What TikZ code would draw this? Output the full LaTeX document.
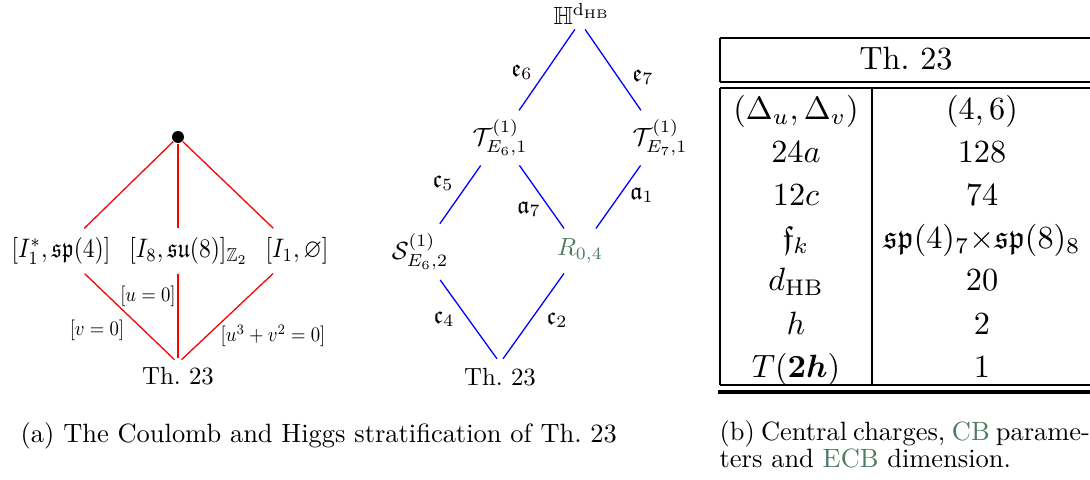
\documentclass[tikz,border=0pt]{standalone}
\usepackage{amsmath,amssymb}
\definecolor{cbgreen}{RGB}{80,122,100}
% text is set at 10pt and scaled down, as in a scaled picture
\newcommand\dgsz[1]{\scalebox{0.77}{#1}}
\newcommand\lbsz[1]{\scalebox{0.73}[0.83]{#1}}
\newcommand\egsz[1]{\scalebox{0.58}[0.64]{#1}}
\newcommand\cpsz[1]{\scalebox{0.82}{#1}}
\tikzset{
  lbl/.style={inner sep=0pt},
  glbl/.style={rectangle, minimum height=13.64pt, inner sep=0pt},
  vtx/.style={circle, inner sep=0pt},
  blackdot/.style={circle, fill=black, minimum size=3.7pt, inner sep=0pt},
  rline/.style={draw=red, line width=0.4pt},
  bline/.style={draw=blue, line width=0.4pt},
  tframe/.style={line width=0.65pt},
  tinner/.style={line width=0.4pt},
  tcell/.style={inner sep=0pt, anchor=base},
  capt/.style={inner sep=0pt, anchor=base west}
}
\begin{document}
\begin{tikzpicture}[x=0.31pt, y=-0.31pt]
\useasboundingbox (0,0) rectangle (1090,480);

% ---------- left diagram ----------
\node[blackdot] (top) at (178,137) {};
\node[glbl] (l1) at (61,251) {\lbsz{$[I_1^*,\mathfrak{sp}(4)]$}};
\node[glbl] (l2) at (178,251) {\lbsz{$\hphantom{{}_{\mathbb{Z}_2}}[I_8,\mathfrak{su}(8)]_{\mathbb{Z}_2}$}};
\node[glbl] (l3) at (297,251) {\lbsz{$[I_1,\varnothing]$}};
\coordinate (thA) at (178,363);
\node[lbl, anchor=base] (thAl) at (178,384) {\dgsz{Th.~23}};
\draw[rline] (top) -- (l1);
\draw[rline] (top) -- (l2);
\draw[rline] (top) -- (l3);
\draw[rline, shorten >=1.5pt] (l1) -- (thA);
\draw[rline, shorten >=1.5pt] (l2) -- (thA);
\draw[rline, shorten >=1.5pt] (l3) -- (thA);
\node[lbl] (ev) at (97,330) {\egsz{$[v=0]$}};
\node[lbl] (eu) at (148,296) {\egsz{$[u=0]$}};
\node[lbl] (euv) at (273,336) {\egsz{$[u^3+v^2=0]$}};

% ---------- middle diagram ----------
\coordinate (H) at (580,22);
\node[lbl, anchor=base west] (Hl) at (553,25) {\dgsz{$\mathbb{H}^{\mathrm{d}_{\mathrm{HB}}}$}};
\node[vtx, minimum size=19.8pt] (T6) at (500,138) {\dgsz{$\mathcal{T}^{(1)}_{E_6,1}$}};
\node[vtx, minimum size=19.8pt] (T7) at (660,138) {\dgsz{$\mathcal{T}^{(1)}_{E_7,1}$}};
\node[vtx, minimum size=21pt] (S) at (420,252) {\dgsz{$\mathcal{S}^{(1)}_{E_6,2}$}};
\node[vtx, minimum size=16.7pt, text=cbgreen] (R) at (580,251) {\dgsz{$R_{0,4}$}};
\coordinate (thB) at (500,363);
\node[lbl, anchor=base] (thBl) at (500,385) {\dgsz{Th.~23}};
\draw[bline, shorten <=2.8pt] (H) -- (T6);
\draw[bline, shorten <=2.8pt] (H) -- (T7);
\draw[bline] (T6) -- (S);
\draw[bline] (T6) -- (R);
\draw[bline] (T7) -- (R);
\draw[bline, shorten >=1.6pt] (S) -- (thB);
\draw[bline, shorten >=1.6pt] (R) -- (thB);
\node[lbl] (e6) at (522,72) {\dgsz{$\mathfrak{e}_6$}};
\node[lbl] (e7) at (643,77) {\dgsz{$\mathfrak{e}_7$}};
\node[lbl] (c5) at (443,183) {\dgsz{$\mathfrak{c}_5$}};
\node[lbl] (a7) at (529,209) {\dgsz{$\mathfrak{a}_7$}};
\node[lbl] (a1) at (642,195) {\dgsz{$\mathfrak{a}_1$}};
\node[lbl] (c4) at (444,319) {\dgsz{$\mathfrak{c}_4$}};
\node[lbl] (c2) at (557,320) {\dgsz{$\mathfrak{c}_2$}};

% ---------- table ----------
\draw[tframe] (720,38) -- (1095,38);
\draw[tframe] (720,38) -- (720,82);
\draw[tframe] (720,82) -- (1095,82);
\draw[tframe] (720,88) -- (1095,88);
\draw[tframe] (720,88) -- (720,385);
\draw[tinner] (872,88) -- (872,385);
\draw[tframe] (720,385) -- (1095,385);
\draw[line width=1pt] (718,392) -- (1095,392);
\node[tcell] (ttl) at (906,70) {Th.~23};
\node[tcell] (k1) at (796,120) {$(\Delta_u,\Delta_v)$};
\node[tcell] (k2) at (796,163) {$24a$};
\node[tcell] (k3) at (796,206) {$12c$};
\node[tcell] (k4) at (796,249) {$\mathfrak{f}_k$};
\node[tcell] (k5) at (796,291) {$d_{\text{HB}}$};
\node[tcell] (k6) at (796,334) {$h$};
\node[tcell] (k7) at (796,377) {$T(\boldsymbol{2h})$};
\node[tcell] (v1) at (982,120) {$(4,6)$};
\node[tcell] (v2) at (982,163) {$128$};
\node[tcell] (v3) at (982,206) {$74$};
\node[tcell] (v4) at (982,249) {$\mathfrak{sp}(4)_7{\times}\mathfrak{sp}(8)_8$};
\node[tcell] (v5) at (982,291) {$20$};
\node[tcell] (v6) at (982,334) {$2$};
\node[tcell] (v7) at (982,377) {$1$};

% ---------- captions ----------
\node[capt] (capA) at (20,442) {\cpsz{(a) The Coulomb and Higgs stratification of Th.~23}};
\node[capt] (capB1) at (719,440) {\cpsz{\makebox[140pt][s]{(b) Central charges, \textcolor{cbgreen}{CB} parame-}}};
\node[capt] (capB2) at (719,467) {\cpsz{ters and \textcolor{cbgreen}{ECB} dimension.}};
\end{tikzpicture}
\end{document}
